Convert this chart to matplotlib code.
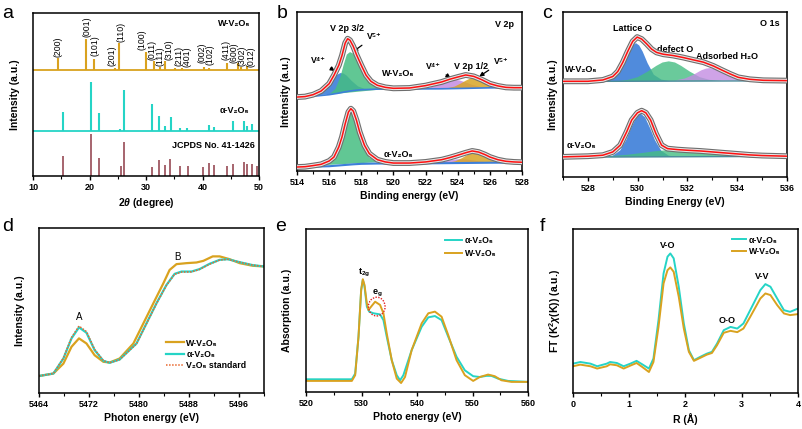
import numpy as np
import matplotlib
matplotlib.use("Agg")
import matplotlib.pyplot as plt
from matplotlib.ticker import MultipleLocator
from matplotlib.patches import Ellipse

plt.rcParams['font.family'] = ['Liberation Sans', 'DejaVu Sans']
plt.rcParams['font.weight'] = 'bold'
plt.rcParams['axes.labelweight'] = 'bold'
plt.rcParams['mathtext.fontset'] = 'custom'
plt.rcParams['mathtext.rm'] = 'Liberation Sans:bold'
plt.rcParams['mathtext.bf'] = 'Liberation Sans:bold'
plt.rcParams['mathtext.it'] = 'Liberation Sans:bold:italic'

GOLD = '#d9a21f'
CYAN = '#25d4c6'
STICK = '#8e3b46'
BLUE = '#3d7fd9'
GREEN = '#45bd82'
PURPLE = '#c38ce2'
YELL = '#d8a526'

# ---------------- a: XRD ----------------
w_pos = [14.4, 19.45, 20.8, 24.5, 25.2, 30.0, 31.5, 32.4, 33.4, 35.2, 36.4, 40.2, 41.1, 44.4, 46.3, 46.9, 47.9]
w_h = [7.2, 18.8, 6.7, 1.0, 16.4, 11.2, 5.5, 2.0, 5.5, 1.0, 1.2, 2.0, 1.4, 4.1, 4.1, 2.0, 2.5]
a_pos = [15.3, 20.3, 21.7, 25.4, 26.15, 31.0, 32.35, 33.35, 34.35, 36.1, 37.3, 41.2, 42.0, 45.4, 47.3, 47.8, 48.8]
a_h = [11.7, 29.9, 11.0, 1.4, 24.9, 16.4, 9.2, 3.3, 8.8, 2.0, 2.0, 3.5, 2.2, 5.9, 6.1, 3.3, 4.1]
ref_pos = [15.35, 20.26, 21.71, 25.54, 26.13, 30.99, 32.35, 33.3, 34.3, 36.05, 37.4, 40.1,
           41.2, 42.0, 44.3, 45.45, 47.3, 47.8, 48.8, 49.6]
ref_h = [12.3, 25.8, 10.8, 6.1, 20.7, 5.3, 9.8, 6.7, 10.2, 6.1, 5.9, 5.5, 7.8, 6.5, 6.1, 7.4,
         8.4, 7.4, 7.2, 5.9]
hkl = ['(200)', '(001)', '(101)', '(201)', '(110)', '(100)', '(011)', '(111)', '(310)',
       '(211)', '(401)', '(002)', '(102)', '(411)', '(600)', '(302)', '(012)']
hkl_x = [14.4, 19.6, 21.0, 24.0, 25.6, 29.3, 31.0, 32.4, 34.0, 35.8, 37.3, 39.9, 41.3, 44.1, 45.6, 47.0, 48.6]
hkl_y = [73.0, 85.1, 73.4, 67.4, 82.4, 77.3, 71.4, 67.6, 71.4, 67.4, 66.6, 69.3, 68.3, 71.2, 69.3, 67.4, 66.6]
w_base, a_base = 65.0, 27.6

# ---------------- b: V 2p XPS ----------------
b_w_x = [514.0, 514.5, 515.0, 515.5, 516.0, 516.3, 516.6, 516.8, 517.0, 517.15, 517.3, 517.5,
         517.7, 518.0, 518.3, 518.6, 519.0, 519.5, 520.0, 521.0, 522.0, 523.0, 523.5, 524.0,
         524.5, 525.0, 525.5, 526.0, 526.5, 527.0, 527.5, 528.0]
b_w_y = [46.5, 46.8, 48.0, 50.3, 54.9, 60.2, 66.5, 72.7, 80.5, 83.2, 82.2, 78.4, 73.2, 66.5,
         60.2, 56.4, 53.9, 52.6, 52.0, 52.2, 53.7, 56.0, 57.7, 59.1, 60.4, 59.5, 57.4, 54.9,
         53.5, 52.6, 52.4, 52.4]
b_w_bg_x = [514.0, 515.0, 516.0, 516.5, 517.0, 517.5, 518.0, 519.0, 521.0, 523.0, 524.0, 525.0, 526.0, 528.0]
b_w_bg_y = [46.5, 47.0, 48.0, 48.8, 49.8, 50.6, 51.1, 51.5, 51.6, 51.7, 51.9, 52.1, 52.3, 52.4]
b_w_v4a_x = [514.8, 515.2, 515.6, 516.0, 516.3, 516.5, 516.7, 516.9, 517.1, 517.4, 517.8, 518.2, 518.6]
b_w_v4a_y = [47.0, 47.7, 49.9, 54.3, 58.4, 60.5, 61.6, 61.3, 59.9, 56.7, 53.2, 51.7, 51.4]
b_w_v5a_x = [516.0, 516.4, 516.7, 516.9, 517.1, 517.3, 517.5, 517.7, 518.0, 518.3, 518.7, 519.2, 519.8]
b_w_v5a_y = [48.1, 51.7, 59.2, 66.6, 73.2, 74.8, 73.8, 70.3, 65.1, 59.7, 54.9, 52.5, 51.8]
b_w_v4b_x = [521.6, 522.2, 522.7, 523.1, 523.5, 523.8, 524.1, 524.5, 524.9, 525.4, 526.0]
b_w_v4b_y = [51.7, 52.35, 53.8, 55.4, 56.9, 57.35, 57.0, 55.7, 54.2, 52.9, 52.4]
b_w_v5b_x = [523.3, 523.8, 524.2, 524.5, 524.8, 525.0, 525.2, 525.5, 525.8, 526.2, 526.7]
b_w_v5b_y = [51.95, 53.05, 55.05, 56.8, 58.25, 58.6, 58.35, 57.0, 55.35, 53.5, 52.55]

b_a_x = [514.0, 514.5, 515.0, 515.5, 516.0, 516.3, 516.6, 516.8, 517.0, 517.2, 517.35, 517.5,
         517.7, 517.9, 518.2, 518.5, 519.0, 519.5, 520.0, 521.0, 522.0, 523.0, 523.5, 524.0,
         524.5, 524.9, 525.3, 525.7, 526.0, 526.5, 527.0, 527.5, 528.0]
b_a_y = [2.5, 2.7, 3.4, 4.2, 6.3, 8.8, 15.1, 21.4, 29.8, 37.1, 39.2, 37.7, 31.9, 24.5, 16.1,
         10.9, 7.1, 5.7, 5.0, 5.0, 5.7, 7.1, 8.4, 9.9, 11.5, 12.6, 11.9, 10.3, 8.8, 7.1, 6.1, 5.7, 5.5]
b_a_bg_x = [514.0, 516.0, 517.0, 517.5, 518.0, 519.0, 522.0, 524.0, 526.0, 528.0]
b_a_bg_y = [2.5, 3.0, 3.8, 4.2, 4.5, 4.7, 4.8, 5.0, 5.2, 5.3]
b_a_v5a_x = [515.7, 516.2, 516.6, 516.9, 517.15, 517.35, 517.55, 517.8, 518.1, 518.5, 519.0]
b_a_v5a_y = [3.7, 7.2, 16.3, 28.2, 36.5, 39.1, 36.8, 28.85, 17.3, 8.6, 5.5]
b_a_v4b_x = [522.4, 523.0, 523.5, 523.9, 524.2, 524.5, 524.9, 525.4, 526.0]
b_a_v4b_y = [5.05, 5.75, 6.65, 7.3, 7.5, 7.35, 6.8, 5.95, 5.4]
b_a_v5b_x = [523.35, 523.85, 524.25, 524.55, 524.85, 525.05, 525.25, 525.55, 525.85, 526.25, 526.75]
b_a_v5b_y = [5.15, 6.1, 8.0, 9.75, 11.1, 11.4, 11.15, 9.85, 8.2, 6.3, 5.45]

# ---------------- c: O 1s XPS ----------------
c_w_x = [527.0, 528.0, 528.6, 529.0, 529.2, 529.4, 529.6, 529.8, 529.98, 530.16, 530.36, 530.56,
         530.76, 531.03, 531.43, 531.83, 532.23, 532.64, 533.04, 533.37, 533.71, 534.04, 534.51,
         535.05, 536.0]
c_w_y = [58.0, 58.0, 58.8, 60.9, 63.9, 69.4, 76.1, 82.2, 84.8, 83.6, 80.7, 77.5, 75.5, 74.4,
         73.6, 72.4, 71.0, 69.6, 67.3, 64.9, 62.5, 60.4, 59.2, 58.6, 58.4]
c_w_bg_x = [527.0, 536.0]
c_w_bg_y = [57.9, 58.3]
c_w_lat_x = [528.6, 528.9, 529.2, 529.45, 529.65, 529.8, 529.93, 530.06, 530.2, 530.4, 530.65, 530.95, 531.3]
c_w_lat_y = [58.0, 59.05, 61.75, 68.45, 75.65, 79.75, 81.15, 79.75, 76.05, 68.95, 61.95, 59.05, 58.1]
c_w_def_x = [529.2, 529.6, 530.0, 530.4, 530.75, 531.0, 531.25, 531.5, 531.75, 532.1, 532.5, 532.9, 533.4]
c_w_def_y = [58.05, 58.85, 60.5, 63.85, 67.35, 69.4, 70.1, 69.4, 67.35, 63.85, 60.5, 58.85, 58.2]
c_w_ads_x = [531.5, 531.9, 532.25, 532.55, 532.75, 532.9, 533.05, 533.25, 533.55, 533.9, 534.3]
c_w_ads_y = [58.5, 59.7, 62.0, 64.6, 65.7, 66.0, 65.7, 64.6, 62.0, 59.7, 58.5]

c_a_x = [527.0, 528.0, 528.6, 529.0, 529.3, 529.56, 529.76, 529.99, 530.16, 530.33, 530.52,
         530.73, 530.96, 531.2, 531.6, 532.0, 532.5, 533.0, 533.5, 534.0, 534.5, 535.0, 535.5, 536.0]
c_a_y = [12.2, 12.6, 13.2, 15.2, 19.3, 27.4, 34.5, 38.9, 40.2, 38.9, 34.5, 26.4, 19.3, 17.2,
         16.6, 16.2, 15.8, 15.2, 14.6, 14.0, 13.4, 13.0, 12.8, 12.6]
c_a_bg_x = [527.0, 536.0]
c_a_bg_y = [12.0, 12.5]
c_a_lat_x = [528.7, 529.0, 529.3, 529.55, 529.75, 529.95, 530.12, 530.3, 530.5, 530.7, 530.95, 531.25, 531.6]
c_a_lat_y = [12.15, 12.9, 16.1, 22.7, 30.1, 36.4, 38.5, 36.1, 29.6, 22.2, 15.9, 12.9, 12.25]
c_a_def_x = [528.3, 528.9, 529.6, 530.2, 530.7, 531.2, 531.6, 532.1, 532.7, 533.3, 534.0, 534.8, 535.6, 536.0]
c_a_def_y = [12.1, 12.7, 13.5, 14.6, 15.6, 16.3, 16.5, 16.4, 16.0, 15.5, 14.75, 13.9, 13.15, 12.5]

# ---------------- d: V K-edge XANES ----------------
d_x = [5464.0, 5466.3, 5467.9, 5469.2, 5470.4, 5471.6, 5472.9, 5474.3, 5475.3, 5476.9, 5479.1,
       5480.7, 5482.3, 5483.9, 5484.9, 5486.0, 5487.6, 5489.2, 5490.3, 5491.8, 5492.9, 5494.5,
       5496.1, 5498.2, 5500.0]
d_w = [10.3, 11.8, 17.8, 28.0, 33.1, 30.0, 22.9, 18.9, 18.5, 20.9, 30.0, 42.2, 54.4, 66.5, 74.6,
       78.1, 78.7, 79.1, 80.1, 82.8, 82.8, 81.1, 78.7, 77.1, 76.7]
d_ax = [5464.0, 5466.3, 5467.9, 5469.2, 5470.4, 5471.6, 5472.9, 5474.3, 5475.3, 5476.9, 5479.6,
        5481.2, 5482.8, 5484.4, 5485.7, 5486.8, 5488.4, 5489.7, 5491.3, 5492.9, 5494.2, 5496.1,
        5498.2, 5500.0]
d_a = [10.3, 11.8, 20.9, 33.1, 39.8, 36.5, 26.0, 19.5, 18.3, 20.3, 30.0, 42.2, 54.4, 65.5, 72.2,
       73.6, 73.6, 75.1, 78.3, 80.7, 81.1, 79.3, 77.5, 76.7]
d_s = [10.3, 11.8, 21.2, 33.6, 40.6, 37.2, 26.4, 19.6, 18.3, 20.2, 29.8, 42.0, 54.2, 65.3, 72.0,
       73.3, 73.4, 74.9, 78.1, 80.6, 81.0, 79.3, 77.5, 76.7]

# ---------------- e: O K-edge ----------------
e_ax = [520.0, 528.26, 528.86, 529.46, 529.94, 530.24, 530.54, 530.96, 531.38, 532.16, 533.35,
        533.95, 534.55, 535.45, 536.35, 536.95, 537.54, 539.04, 540.84, 542.04, 543.23, 544.43,
        545.63, 547.13, 548.62, 550.12, 551.32, 552.51, 553.41, 554.61, 556.41, 560.0]
e_a = [7.8, 7.8, 11.3, 33.9, 62.6, 68.8, 64.7, 52.4, 49.3, 48.3, 47.6, 44.1, 33.9, 19.5, 10.3,
       7.2, 10.3, 25.7, 40.0, 45.8, 46.6, 44.1, 33.9, 21.6, 13.3, 9.7, 9.2, 9.9, 9.9, 8.2, 6.8, 6.2]
e_wx = [520.0, 528.26, 528.86, 529.46, 529.94, 530.24, 530.54, 530.96, 531.26, 531.74, 532.46,
        533.35, 533.95, 534.55, 535.45, 536.35, 537.13, 537.84, 539.04, 540.84, 542.04, 543.23,
        544.43, 545.63, 547.13, 548.62, 550.12, 551.32, 552.81, 554.01, 555.21, 557.01, 560.0]
e_w = [6.8, 6.8, 10.3, 33.9, 62.6, 69.2, 65.7, 54.4, 50.3, 52.4, 55.4, 53.4, 48.3, 35.9, 19.5,
       8.2, 5.5, 9.2, 25.7, 42.1, 48.3, 49.3, 46.2, 34.9, 19.5, 10.3, 6.8, 9.2, 10.7, 9.7, 7.2, 6.2, 6.2]

# ---------------- f: EXAFS FT ----------------
f_r = [0.0, 0.13, 0.31, 0.43, 0.60, 0.66, 0.78, 0.90, 1.02, 1.13, 1.23, 1.35, 1.43, 1.52, 1.61,
       1.68, 1.73, 1.79, 1.88, 1.97, 2.06, 2.15, 2.26, 2.38, 2.47, 2.56, 2.68, 2.80, 2.92, 3.03,
       3.15, 3.33, 3.42, 3.51, 3.63, 3.75, 3.86, 4.0]
f_a = [17.9, 18.9, 17.9, 16.3, 17.9, 18.9, 18.3, 16.3, 17.9, 19.6, 17.5, 14.9, 21.0, 44.4, 72.9,
       83.1, 85.1, 82.1, 64.8, 42.4, 26.1, 20.0, 22.0, 24.0, 25.1, 30.1, 38.3, 40.3, 39.3, 42.4,
       50.5, 62.7, 66.4, 64.8, 57.6, 50.5, 49.5, 51.5]
f_w = [16.3, 17.3, 16.3, 14.9, 16.3, 17.5, 16.9, 14.9, 16.7, 18.3, 15.9, 12.8, 18.9, 40.3, 66.8,
       74.9, 76.6, 73.9, 58.7, 39.3, 25.1, 19.6, 21.4, 23.4, 24.4, 29.1, 36.7, 37.9, 37.1, 39.3,
       46.4, 57.6, 60.7, 59.7, 53.6, 48.5, 47.5, 48.1]

W, H = 803, 429
fig = plt.figure(figsize=(W / 100, H / 100), dpi=100)


def box(l, t, r, b):
    return fig.add_axes([l / W, 1 - b / H, (r - l) / W, (b - t) / H])


def style(ax, xlim, major, minor, xlabel, ylabel, pad):
    ax.set_xlim(*xlim)
    ax.set_ylim(0, 100)
    ax.xaxis.set_major_locator(MultipleLocator(major))
    ax.xaxis.set_minor_locator(MultipleLocator(minor))
    ax.set_yticks([])
    ax.tick_params(axis='x', which='major', direction='out', length=3, width=1, labelsize=6.5, pad=2)
    ax.tick_params(axis='x', which='minor', direction='out', length=1.8, width=0.8)
    for s in ax.spines.values():
        s.set_linewidth(1.1)
    ax.set_xlabel(xlabel, fontsize=7.5, labelpad=3)
    ax.set_ylabel(ylabel, fontsize=7.5, labelpad=pad)


def spectrum(ax, x, y):
    ax.plot(x, y, color='#6e6e6e', lw=4.2, solid_capstyle='butt', zorder=4)
    ax.plot(x, y, color='#e6e6e6', lw=2.6, solid_capstyle='butt', zorder=5)
    ax.plot(x, y, color='#ff1010', lw=1.1, zorder=6)


# a
ax = box(33, 13, 259, 176)
ax.vlines(ref_pos, 0, ref_h, color=STICK, lw=1.1)
ax.plot([10, 50], [a_base, a_base], color=CYAN, lw=1.3)
ax.vlines(a_pos, a_base, np.array(a_h) + a_base, color=CYAN, lw=1.5)
ax.plot([10, 50], [w_base, w_base], color=GOLD, lw=1.3)
ax.vlines(w_pos, w_base, np.array(w_h) + w_base, color=GOLD, lw=1.5)
for lab, xx, yy in zip(hkl, hkl_x, hkl_y):
    ax.text(xx, yy, lab, rotation=90, ha='center', va='bottom', fontsize=6.3, fontweight='normal')
ax.text(45.6, 93.7, 'W-V₂O₅', ha='center', va='center', fontsize=6.5)
ax.text(45.6, 39.9, 'α-V₂O₅', ha='center', va='center', fontsize=6.5)
ax.text(42.0, 18.6, 'JCPDS No. 41-1426', ha='center', va='center', fontsize=6.5)
style(ax, (10, 50), 10, 5, r'2$\theta$ (degree)', 'Intensity (a.u.)', 9)

# b
ax = box(297, 12, 522, 171)
ax.fill(b_w_v4a_x, b_w_v4a_y, color=BLUE, alpha=0.9, lw=0, zorder=2)
ax.fill(b_w_v5a_x, b_w_v5a_y, color=GREEN, alpha=0.85, lw=0, zorder=2)
ax.fill(b_w_v4b_x, b_w_v4b_y, color=PURPLE, alpha=0.85, lw=0, zorder=2)
ax.fill(b_w_v5b_x, b_w_v5b_y, color=YELL, alpha=0.85, lw=0, zorder=2)
ax.plot(b_w_bg_x, b_w_bg_y, color=BLUE, lw=1.2, zorder=3)
spectrum(ax, b_w_x, b_w_y)
ax.fill(b_a_v5a_x, b_a_v5a_y, color=GREEN, alpha=0.85, lw=0, zorder=2)
ax.fill(b_a_v4b_x, b_a_v4b_y, color=PURPLE, alpha=0.85, lw=0, zorder=2)
ax.fill(b_a_v5b_x, b_a_v5b_y, color=YELL, alpha=0.85, lw=0, zorder=2)
ax.plot(b_a_bg_x, b_a_bg_y, color=BLUE, lw=1.5, zorder=3)
spectrum(ax, b_a_x, b_a_y)
arr = dict(arrowstyle='-|>', color='black', lw=0.9, mutation_scale=6)
ax.text(526.9, 92.2, 'V 2p', ha='center', va='center', fontsize=6.5)
ax.text(517.1, 89.9, 'V 2p 3/2', ha='center', va='center', fontsize=6.5)
ax.text(524.8, 65.8, 'V 2p 1/2', ha='center', va='center', fontsize=6.5)
ax.annotate('V⁵⁺', xy=(517.35, 74.0), xytext=(518.8, 84.7), ha='center', va='center', fontsize=6.3, arrowprops=arr)
ax.annotate('V⁴⁺', xy=(516.5, 62.0), xytext=(515.3, 69.6), ha='center', va='center', fontsize=6.3, arrowprops=arr)
ax.annotate('V⁴⁺', xy=(523.7, 57.5), xytext=(522.5, 65.8), ha='center', va='center', fontsize=6.3, arrowprops=arr)
ax.annotate('V⁵⁺', xy=(525.2, 58.5), xytext=(526.7, 68.6), ha='center', va='center', fontsize=6.3, arrowprops=arr)
ax.text(520.3, 61.2, 'W-V₂O₅', ha='center', va='center', fontsize=6.5)
ax.text(520.3, 10.5, 'α-V₂O₅', ha='center', va='center', fontsize=6.5)
style(ax, (514, 528), 2, 1, 'Binding energy (eV)', 'Intensity (a.u.)', 4)

# c
ax = box(563, 12, 787, 177)
ax.fill(c_w_lat_x, c_w_lat_y, color=BLUE, alpha=0.9, lw=0, zorder=2)
ax.fill(c_w_def_x, c_w_def_y, color=GREEN, alpha=0.8, lw=0, zorder=2)
ax.fill(c_w_ads_x, c_w_ads_y, color=PURPLE, alpha=0.8, lw=0, zorder=2)
ax.plot(c_w_bg_x, c_w_bg_y, color='#4a8a9a', lw=1.0, zorder=3)
spectrum(ax, c_w_x, c_w_y)
ax.fill(c_a_lat_x, c_a_lat_y, color=BLUE, alpha=0.9, lw=0, zorder=2)
ax.fill(c_a_def_x, c_a_def_y, color=GREEN, alpha=0.8, lw=0, zorder=2)
ax.plot(c_a_bg_x, c_a_bg_y, color='#4a8a9a', lw=1.0, zorder=3)
spectrum(ax, c_a_x, c_a_y)
ax.text(535.3, 93.3, 'O 1s', ha='center', va='center', fontsize=6.5)
ax.text(529.8, 89.9, 'Lattice O', ha='center', va='center', fontsize=6.5)
ax.text(531.5, 77.5, 'defect O', ha='center', va='center', fontsize=6.5)
ax.text(533.6, 73.0, 'Adsorbed H₂O', ha='center', va='center', fontsize=6.5)
ax.text(527.75, 65.3, 'W-V₂O₅', ha='center', va='center', fontsize=6.5)
ax.text(527.75, 18.9, 'α-V₂O₅', ha='center', va='center', fontsize=6.5)
style(ax, (527, 536), 2, 1, 'Binding Energy (eV)', 'Intensity (a.u.)', 3.5)

# d
ax = box(39, 228, 264, 393)
ax.plot(d_x, d_w, color=GOLD, lw=1.6, label='W-V₂O₅')
ax.plot(d_ax, d_a, color=CYAN, lw=1.6, label='α-V₂O₅')
ax.plot(d_ax, d_s, color='#e8672e', lw=1.1, ls=(0, (1, 1)), label='V₂O₅ standard')
ax.text(5470.4, 46.2, 'A', ha='center', va='center', fontsize=7, fontweight='normal')
ax.text(5486.1, 82.2, 'B', ha='center', va='center', fontsize=7, fontweight='normal')
ax.legend(loc='upper left', bbox_to_anchor=(0.565, 0.33), frameon=False, fontsize=6.3,
          handlelength=2.0, handletextpad=0.3, labelspacing=0.25, borderpad=0, borderaxespad=0)
style(ax, (5464, 5500), 8, 4, 'Photon energy (eV)', 'Intensity (a.u.)', 10)

# e
ax = box(306, 229, 528, 392)
ax.plot(e_ax, e_a, color=CYAN, lw=1.4, label='α-V₂O₅')
ax.plot(e_wx, e_w, color=GOLD, lw=1.4, label='W-V₂O₅')
ax.add_patch(Ellipse((532.75, 52.4), 3.0, 11.5, fill=False, ec='#e52020', lw=1.0, ls=(0, (1, 1)), zorder=5))
ax.text(530.5, 72.9, r'$\mathbf{t_{2g}}$', ha='center', va='center', fontsize=6.5)
ax.text(532.9, 60.6, r'$\mathbf{e_{g}}$', ha='center', va='center', fontsize=6.5)
ax.legend(loc='upper left', bbox_to_anchor=(0.625, 0.955), frameon=False, fontsize=6.3,
          handlelength=2.0, handletextpad=0.3, labelspacing=0.45, borderpad=0, borderaxespad=0)
style(ax, (520, 560), 10, 5, 'Photo energy (eV)', 'Absorption (a.u.)', 10)

# f
ax = box(573, 229, 798, 393)
ax.plot(f_r, f_a, color=CYAN, lw=1.4, label='α-V₂O₅')
ax.plot(f_r, f_w, color=GOLD, lw=1.4, label='W-V₂O₅')
ax.text(1.69, 90.2, 'V-O', ha='center', va='center', fontsize=6.5)
ax.text(2.74, 44.4, 'O-O', ha='center', va='center', fontsize=6.5)
ax.text(3.36, 70.9, 'V-V', ha='center', va='center', fontsize=6.5)
ax.legend(loc='upper left', bbox_to_anchor=(0.705, 0.96), frameon=False, fontsize=6.3,
          handlelength=1.7, handletextpad=0.3, labelspacing=0.3, borderpad=0, borderaxespad=0)
style(ax, (0, 4), 1, 0.5, 'R (Å)', r'FT (K$^{2}\chi$(K)) (a.u.)', 7)

for lab, x, y in [('a', 2, 14), ('b', 277, 14), ('c', 542, 14), ('d', 2, 227), ('e', 275, 227), ('f', 540, 227)]:
    fig.text(x / W, 1 - y / H, lab, ha='left', va='center', fontsize=14, fontweight='normal')

fig.savefig('out.png', dpi=100)
